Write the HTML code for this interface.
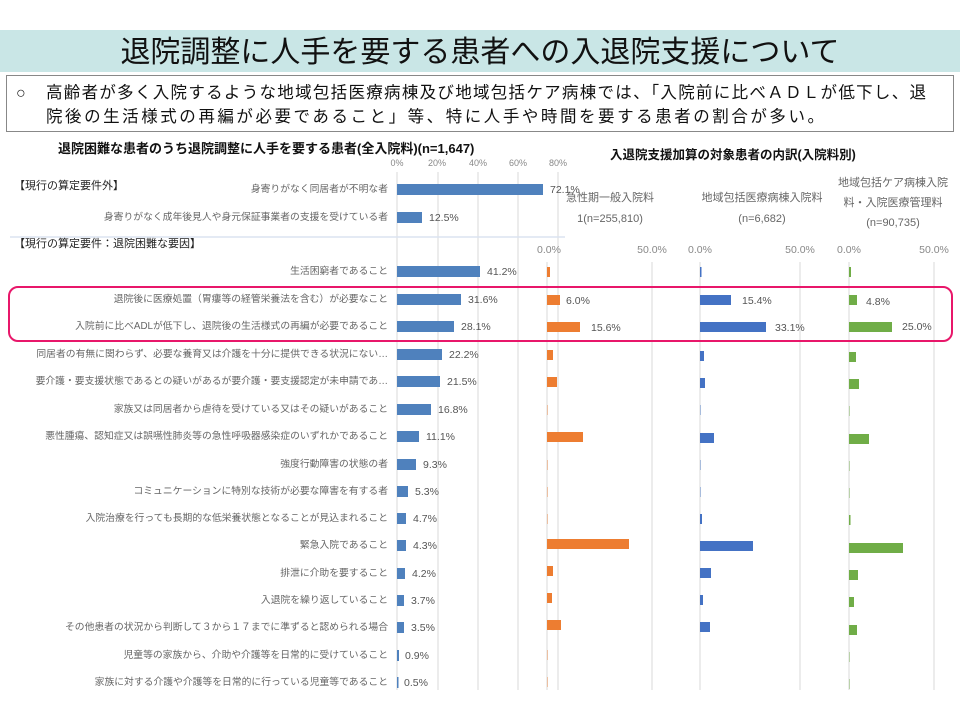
<!DOCTYPE html>
<html><head><meta charset="utf-8"><style>
html,body{margin:0;padding:0;background:#fff;}
svg{display:block;font-family:"Liberation Sans","Noto Sans CJK JP",sans-serif;}
</style></head><body>
<svg width="960" height="720" viewBox="0 0 960 720" xmlns="http://www.w3.org/2000/svg">
<rect x="0" y="30" width="960" height="42" fill="#c9e6e6"/>
<text x="480" y="62" font-size="30" text-anchor="middle" fill="#111">退院調整に人手を要する患者への入退院支援について</text>
<rect x="6.5" y="75.5" width="947" height="56" fill="#fff" stroke="#888" stroke-width="1"/>
<text x="16" y="98" font-size="16" fill="#222">○</text>
<text x="46" y="98" font-size="16.5" fill="#111" textLength="880" lengthAdjust="spacing">高齢者が多く入院するような地域包括医療病棟及び地域包括ケア病棟では、「入院前に比べＡＤＬが低下し、退</text>
<text x="46" y="122" font-size="16.5" fill="#111" textLength="778" lengthAdjust="spacing">院後の生活様式の再編が必要であること」等、特に人手や時間を要する患者の割合が多い。</text>

<text x="58" y="153" font-size="13" font-weight="bold" fill="#111">退院困難な患者のうち退院調整に人手を要する患者(全入院料)(n=1,647)</text>
<text x="610" y="159" font-size="12.5" font-weight="bold" fill="#111">入退院支援加算の対象患者の内訳(入院料別)</text>

<g font-size="9" fill="#888" text-anchor="middle">
<text x="397" y="166">0%</text><text x="437" y="166">20%</text><text x="478" y="166">40%</text><text x="518" y="166">60%</text><text x="558" y="166">80%</text>
</g>
<g stroke="#d9d9d9" stroke-width="1">
<line x1="397" y1="172" x2="397" y2="690"/><line x1="438" y1="172" x2="438" y2="690"/><line x1="478" y1="172" x2="478" y2="690"/><line x1="518" y1="172" x2="518" y2="690"/><line x1="558" y1="172" x2="558" y2="690"/>
<line x1="547" y1="262" x2="547" y2="690"/><line x1="652" y1="262" x2="652" y2="690"/>
<line x1="700" y1="262" x2="700" y2="690"/><line x1="800" y1="262" x2="800" y2="690"/>
<line x1="849" y1="262" x2="849" y2="690"/><line x1="934" y1="262" x2="934" y2="690"/>
</g>
<line x1="10" y1="237" x2="565" y2="237" stroke="#dbe3f0" stroke-width="1.5"/>

<g font-size="11" fill="#666" text-anchor="middle">
<text x="610" y="201">急性期一般入院料</text><text x="610" y="222">1(n=255,810)</text>
<text x="762" y="201">地域包括医療病棟入院料</text><text x="762" y="222">(n=6,682)</text>
<text x="893" y="186">地域包括ケア病棟入院</text><text x="893" y="206">料・入院医療管理料</text><text x="893" y="226">(n=90,735)</text>
</g>
<g font-size="10.5" fill="#888" text-anchor="middle">
<text x="549" y="253">0.0%</text><text x="652" y="253">50.0%</text>
<text x="700" y="253">0.0%</text><text x="800" y="253">50.0%</text>
<text x="849" y="253">0.0%</text><text x="934" y="253">50.0%</text>
</g>

<g font-size="11" fill="#222">
<text x="14" y="189">【現行の算定要件外】</text>
<text x="14" y="247">【現行の算定要件：退院困難な要因】</text>
</g>

<g font-size="9.8" fill="#666" text-anchor="end">
<text x="388" y="192">身寄りがなく同居者が不明な者</text>
<text x="388" y="220">身寄りがなく成年後見人や身元保証事業者の支援を受けている者</text>
<text x="388" y="274">生活困窮者であること</text>
<text x="388" y="302">退院後に医療処置（胃瘻等の経管栄養法を含む）が必要なこと</text>
<text x="388" y="329">入院前に比べADLが低下し、退院後の生活様式の再編が必要であること</text>
<text x="388" y="357">同居者の有無に関わらず、必要な養育又は介護を十分に提供できる状況にない…</text>
<text x="388" y="384">要介護・要支援状態であるとの疑いがあるが要介護・要支援認定が未申請であ…</text>
<text x="388" y="412">家族又は同居者から虐待を受けている又はその疑いがあること</text>
<text x="388" y="439">悪性腫瘍、認知症又は誤嚥性肺炎等の急性呼吸器感染症のいずれかであること</text>
<text x="388" y="467">強度行動障害の状態の者</text>
<text x="388" y="494">コミュニケーションに特別な技術が必要な障害を有する者</text>
<text x="388" y="521">入院治療を行っても長期的な低栄養状態となることが見込まれること</text>
<text x="388" y="548">緊急入院であること</text>
<text x="388" y="576">排泄に介助を要すること</text>
<text x="388" y="603">入退院を繰り返していること</text>
<text x="388" y="630">その他患者の状況から判断して３から１７までに準ずると認められる場合</text>
<text x="388" y="658">児童等の家族から、介助や介護等を日常的に受けていること</text>
<text x="388" y="685">家族に対する介護や介護等を日常的に行っている児童等であること</text>
</g>

<g fill="#4f81bd">
<rect x="397" y="184" width="146" height="11"/>
<rect x="397" y="212" width="25" height="11"/>
<rect x="397" y="266" width="83" height="11"/>
<rect x="397" y="294" width="64" height="11"/>
<rect x="397" y="321" width="57" height="11"/>
<rect x="397" y="349" width="45" height="11"/>
<rect x="397" y="376" width="43" height="11"/>
<rect x="397" y="404" width="34" height="11"/>
<rect x="397" y="431" width="22" height="11"/>
<rect x="397" y="459" width="19" height="11"/>
<rect x="397" y="486" width="11" height="11"/>
<rect x="397" y="513" width="9" height="11"/>
<rect x="397" y="540" width="9" height="11"/>
<rect x="397" y="568" width="8" height="11"/>
<rect x="397" y="595" width="7" height="11"/>
<rect x="397" y="622" width="7" height="11"/>
<rect x="397" y="650" width="2" height="11"/>
<rect x="397" y="677" width="1.5" height="11"/>
</g>
<g font-size="10.5" fill="#555">
<text x="550" y="193">72.1%</text>
<text x="429" y="221">12.5%</text>
<text x="487" y="275">41.2%</text>
<text x="468" y="303">31.6%</text>
<text x="461" y="330">28.1%</text>
<text x="449" y="358">22.2%</text>
<text x="447" y="385">21.5%</text>
<text x="438" y="413">16.8%</text>
<text x="426" y="440">11.1%</text>
<text x="423" y="468">9.3%</text>
<text x="415" y="495">5.3%</text>
<text x="413" y="522">4.7%</text>
<text x="413" y="549">4.3%</text>
<text x="412" y="577">4.2%</text>
<text x="411" y="604">3.7%</text>
<text x="411" y="631">3.5%</text>
<text x="405" y="659">0.9%</text>
<text x="404" y="686">0.5%</text>
</g>

<g fill="#ed7d31">
<rect x="547" y="267" width="3" height="10"/>
<rect x="547" y="295" width="13" height="10"/>
<rect x="547" y="322" width="33" height="10"/>
<rect x="547" y="350" width="6" height="10"/>
<rect x="547" y="377" width="10" height="10"/>
<rect x="547" y="405" width="1" height="10" opacity="0.4"/>
<rect x="547" y="432" width="36" height="10"/>
<rect x="547" y="460" width="1" height="10" opacity="0.4"/>
<rect x="547" y="487" width="1" height="10" opacity="0.4"/>
<rect x="547" y="514" width="1" height="10" opacity="0.4"/>
<rect x="547" y="539" width="82" height="10"/>
<rect x="547" y="566" width="6" height="10"/>
<rect x="547" y="593" width="5" height="10"/>
<rect x="547" y="620" width="14" height="10"/>
<rect x="547" y="650" width="1" height="10" opacity="0.4"/>
<rect x="547" y="677" width="1" height="10" opacity="0.4"/>
</g>
<g font-size="10.5" fill="#555"><text x="566" y="304">6.0%</text><text x="591" y="331">15.6%</text></g>

<g fill="#4472c4">
<rect x="700" y="267" width="1.5" height="10"/>
<rect x="700" y="295" width="31" height="10"/>
<rect x="700" y="322" width="66" height="10"/>
<rect x="700" y="351" width="4" height="10"/>
<rect x="700" y="378" width="5" height="10"/>
<rect x="700" y="405" width="1" height="10" opacity="0.4"/>
<rect x="700" y="433" width="14" height="10"/>
<rect x="700" y="460" width="1" height="10" opacity="0.4"/>
<rect x="700" y="487" width="1" height="10" opacity="0.4"/>
<rect x="700" y="514" width="2" height="10"/>
<rect x="700" y="541" width="53" height="10"/>
<rect x="700" y="568" width="11" height="10"/>
<rect x="700" y="595" width="3" height="10"/>
<rect x="700" y="622" width="10" height="10"/>
</g>
<g font-size="10.5" fill="#555"><text x="742" y="304">15.4%</text><text x="775" y="331">33.1%</text></g>

<g fill="#70ad47">
<rect x="849" y="267" width="2" height="10"/>
<rect x="849" y="295" width="8" height="10"/>
<rect x="849" y="322" width="43" height="10"/>
<rect x="849" y="352" width="7" height="10"/>
<rect x="849" y="379" width="10" height="10"/>
<rect x="849" y="406" width="1" height="10" opacity="0.4"/>
<rect x="849" y="434" width="20" height="10"/>
<rect x="849" y="461" width="1" height="10" opacity="0.4"/>
<rect x="849" y="488" width="1" height="10" opacity="0.4"/>
<rect x="849" y="515" width="1.5" height="10"/>
<rect x="849" y="543" width="54" height="10"/>
<rect x="849" y="570" width="9" height="10"/>
<rect x="849" y="597" width="5" height="10"/>
<rect x="849" y="625" width="8" height="10"/>
<rect x="849" y="652" width="1" height="10" opacity="0.4"/>
<rect x="849" y="679" width="1" height="10" opacity="0.4"/>
</g>
<g font-size="10.5" fill="#555"><text x="866" y="305">4.8%</text><text x="902" y="330">25.0%</text></g>

<rect x="9" y="287" width="943" height="54" rx="9" ry="9" fill="none" stroke="#e8176a" stroke-width="2"/>
</svg>
</body></html>
